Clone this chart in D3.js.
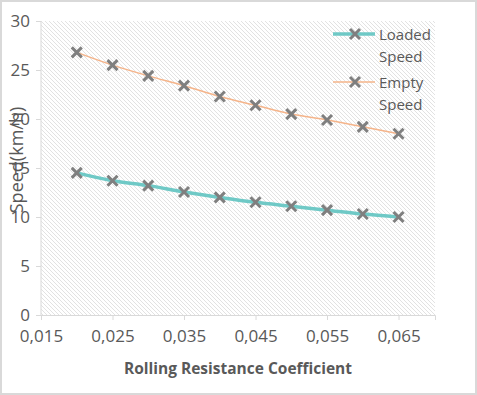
<!DOCTYPE html>
<html>
<head>
<meta charset="utf-8">
<script src="https://cdn.jsdelivr.net/npm/d3@7/dist/d3.min.js"></script>
<style>
body { margin: 0; background: #fff; }
text { font-family: "Open Sans", "Noto Sans", sans-serif; }
</style>
</head>
<body>
<div id="chart"></div>
<script>
// values
const coeffs = [0.020, 0.025, 0.030, 0.035, 0.040, 0.045, 0.050, 0.055, 0.060, 0.065];
const loadedSpeed = [14.5, 13.7, 13.2, 12.55, 12.0, 11.5, 11.1, 10.7, 10.3, 10.0];
const emptySpeed = [26.8, 25.5, 24.4, 23.4, 22.3, 21.4, 20.5, 19.9, 19.2, 18.5];
const xTicks = [0.015, 0.025, 0.035, 0.045, 0.055, 0.065];
const yTicks = [0, 5, 10, 15, 20, 25, 30];
const seriesNames = ['Loaded Speed', 'Empty Speed'];
const seriesColors = ['#6fc9c6', '#f5b48a'];

const width = 477, height = 395;
const margin = {left: 41, right: 42, top: 21, bottom: 80};

const svg = d3.select('#chart')
    .append('svg')
    .attr('width', width)
    .attr('height', height);

// outer frame
svg.append('rect')
    .attr('x', 1).attr('y', 1)
    .attr('width', width - 2).attr('height', height - 2)
    .style('fill', '#fff')
    .style('stroke', '#d9d9d9')
    .style('stroke-width', 2);

const defs = svg.append('defs');
const pat = defs.append('pattern')
    .attr('id', 'hatch')
    .attr('patternUnits', 'userSpaceOnUse')
    .attr('width', 4).attr('height', 4);
pat.append('rect').attr('width', 4).attr('height', 4).style('fill', '#fff');
pat.append('path')
    .attr('d', 'M-1,-1 L5,5 M-1,3 L1,5 M3,-1 L5,1')
    .style('stroke', '#d6d6d6')
    .style('stroke-width', 0.7);

let scaleX = d3.scaleLinear().domain([0.015, 0.0701]).range([margin.left, width - margin.right]);
let scaleY = d3.scaleLinear().domain([0, 30]).range([height - margin.bottom, margin.top]);

svg.append('rect')
    .attr('x', margin.left)
    .attr('y', margin.top)
    .attr('width', scaleX.range()[1] - margin.left)
    .attr('height', scaleY(0) - margin.top)
    .style('fill', 'url(#hatch)');

let xAxis = d3.axisBottom(scaleX).tickValues(xTicks).tickSize(5).tickPadding(10)
    .tickFormat(d => d3.format('.3f')(d).replace('.', ','));
let yAxis = d3.axisLeft(scaleY).tickValues(yTicks).tickSize(5).tickPadding(6);

const xAxisGroup = svg.append('g')
    .attr('transform', 'translate(0,' + scaleY(0) + ')')
    .call(xAxis);
const yAxisGroup = svg.append('g')
    .attr('transform', 'translate(' + margin.left + ',0)')
    .call(yAxis);

[xAxisGroup, yAxisGroup].forEach(g => {
    g.select('.domain').style('stroke', '#d9d9d9');
    g.selectAll('.tick line').style('stroke', '#d9d9d9');
    g.selectAll('.tick text')
        .style('fill', '#595959')
        .style('font-size', '17px')
        .style('font-family', '"Open Sans", sans-serif');
});
yAxisGroup.select('.domain').remove();
yAxisGroup.append('line')
    .attr('x1', 0).attr('x2', 0)
    .attr('y1', scaleY(30)).attr('y2', scaleY(0))
    .style('stroke', '#d9d9d9');

const series = [loadedSpeed, emptySpeed];
const lineWidths = [3.5, 1.5];

let line = d3.line()
    .x(d => scaleX(d[0]))
    .y(d => scaleY(d[1]))
    .curve(d3.curveMonotoneX);

function cross(g, x, y, s) {
    g.append('path')
        .attr('d', `M${x - s},${y - s}L${x + s},${y + s}M${x - s},${y + s}L${x + s},${y - s}`)
        .style('stroke', '#7f7f7f')
        .style('stroke-width', 3)
        .style('fill', 'none');
}

series.forEach((vals, i) => {
    const pts = coeffs.map((c, j) => [c, vals[j]]);
    svg.append('path')
        .datum(pts)
        .attr('d', line)
        .style('fill', 'none')
        .style('stroke', seriesColors[i])
        .style('stroke-width', lineWidths[i] + 'px');
    const mg = svg.append('g');
    pts.forEach(p => cross(mg, scaleX(p[0]), scaleY(p[1]), 5));
});

// legend
const legend = svg.append('g');
seriesNames.forEach((name, i) => {
    const y0 = 34 + i * 48;
    legend.append('line')
        .attr('x1', 333).attr('x2', 375)
        .attr('y1', y0).attr('y2', y0)
        .style('stroke', seriesColors[i])
        .style('stroke-width', lineWidths[i]);
    cross(legend, 355, y0, 5);
    name.split(' ').forEach((w, k) => {
        legend.append('text')
            .attr('x', 379)
            .attr('y', y0 + 6 + k * 22)
            .style('fill', '#595959')
            .style('font-size', '15px')
            .text(w);
    });
});

svg.append('text')
    .attr('x', (margin.left + scaleX.range()[1]) / 2)
    .attr('y', 374)
    .style('text-anchor', 'middle')
    .style('fill', '#595959')
    .style('font-size', '15.5px')
    .style('font-weight', 'bold')
    .text('Rolling Resistance Coefficient');

svg.append('text')
    .attr('transform', 'translate(23,' + 160 + ') rotate(-90)')
    .style('text-anchor', 'middle')
    .style('fill', '#595959')
    .style('font-size', '18px')
    .text('Speed(km/h)');
</script>
</body>
</html>
